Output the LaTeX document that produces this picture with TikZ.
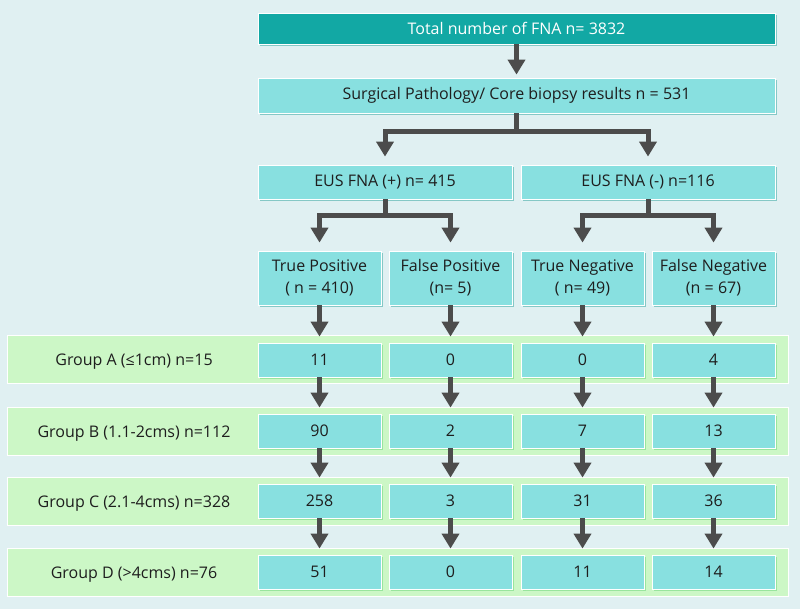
\documentclass[tikz,border=0pt]{standalone}
\usepackage{fontspec}
\setmainfont{Open Sans}
\usetikzlibrary{arrows.meta,shadows}
\definecolor{bgc}{HTML}{E0F0F2}
\definecolor{tealbox}{HTML}{12A8A4}
\definecolor{cyanbox}{HTML}{88E0E0}
\definecolor{greenband}{HTML}{CCF7C6}
\definecolor{arrowc}{HTML}{4C4C4C}
\definecolor{txt}{HTML}{1E1E1E}
\definecolor{shadowc}{HTML}{5FB8B4}
\definecolor{gshadow}{HTML}{9CE89A}
\begin{document}
\begin{tikzpicture}[x=1pt,y=-1pt,
  base/.style={draw=white, line width=0.8pt, inner sep=0pt, align=center,
    font=\fontsize{16}{22}\selectfont},
  box/.style={base, fill=cyanbox, text=txt, minimum height=34pt,
    drop shadow={shadow xshift=1.5pt, shadow yshift=-2pt, fill=shadowc, opacity=0.7}},
  topbox/.style={base, fill=tealbox, text=white, minimum width=517pt, minimum height=31pt,
    drop shadow={shadow xshift=1.5pt, shadow yshift=-2pt, fill=shadowc, opacity=0.7}},
  colbox/.style={box, minimum width=123pt, minimum height=54pt},
  cell/.style={box, minimum width=123pt, minimum height=34pt,
    drop shadow={shadow xshift=1.5pt, shadow yshift=-2pt, fill=gshadow, opacity=0.9}},
  band/.style={base, fill=greenband, minimum width=781pt, minimum height=48pt},
  lbl/.style={text=txt, inner sep=0pt, font=\fontsize{16}{22}\selectfont},
  arr/.style={draw=arrowc, line width=5pt, -{Triangle[width=17pt,length=15pt]}, shorten >=6pt}
]
\useasboundingbox[fill=bgc] (0,0) rectangle (800,609);

% top
\node[topbox] (total) at (516.5,28.5) {Total number of FNA n= 3832};
\node[box, minimum width=517pt, minimum height=35pt] (surg) at (516.5,95.5) {Surgical Pathology/ Core biopsy results n = 531};
\node[box, minimum width=254pt] (eusp) at (385,182) {EUS FNA (+) n= 415};
\node[box, minimum width=254pt] (eusn) at (648,182) {EUS FNA (-) n=116};

\node[colbox] (tp) at (319.5,278) {True Positive\\( n = 410)};
\node[colbox] (fp) at (450.5,278) {False Positive\\(n= 5)};
\node[colbox] (tn) at (582.5,278) {True Negative\\( n= 49)};
\node[colbox] (fn) at (713.5,278) {False Negative\\(n = 67)};

% bands
\node[band] (ga) at (397.5,359) {};
\node[band] (gb) at (397.5,431) {};
\node[band] (gc) at (397.5,501.5) {};
\node[band] (gd) at (397.5,572.5) {};

\node[lbl, anchor=base] (la) at (134,365) {Group A (≤1cm) n=15};
\node[lbl, anchor=base] (lb) at (134,437) {Group B (1.1-2cms) n=112};
\node[lbl, anchor=base] (lc) at (134,507.5) {Group C (2.1-4cms) n=328};
\node[lbl, anchor=base] (ld) at (134,578.5) {Group D (>4cms) n=76};

% cells
\node[cell] (a1) at (319.5,360) {11};
\node[cell] (a2) at (450.5,360) {0};
\node[cell] (a3) at (582.5,360) {0};
\node[cell] (a4) at (713.5,360) {4};
\node[cell] (b1) at (319.5,431) {90};
\node[cell] (b2) at (450.5,431) {2};
\node[cell] (b3) at (582.5,431) {7};
\node[cell] (b4) at (713.5,431) {13};
\node[cell] (c1) at (319.5,501) {258};
\node[cell] (c2) at (450.5,501) {3};
\node[cell] (c3) at (582.5,501) {31};
\node[cell] (c4) at (713.5,501) {36};
\node[cell] (d1) at (319.5,572) {51};
\node[cell] (d2) at (450.5,572) {0};
\node[cell] (d3) at (582.5,572) {11};
\node[cell] (d4) at (713.5,572) {14};

% connectors
\draw[arr, shorten >=3pt] (total.south) -- (surg.north);
\draw[arr, shorten >=8pt] (surg.south) -- ++(0,18) -| (eusp.north);
\draw[arr, shorten >=8pt] (surg.south) -- ++(0,18) -| (eusn.north);
\draw[arr, shorten >=8pt] (eusp.south) -- ++(0,16) -| (tp.north);
\draw[arr, shorten >=8pt] (eusp.south) -- ++(0,16) -| (fp.north);
\draw[arr, shorten >=8pt] (eusn.south) -- ++(0,16) -| (tn.north);
\draw[arr, shorten >=8pt] (eusn.south) -- ++(0,16) -| (fn.north);

\foreach \u/\v in {tp/a1,fp/a2,tn/a3,fn/a4,a1/b1,a2/b2,a3/b3,a4/b4,b1/c1,b2/c2,b3/c3,b4/c4,c1/d1,c2/d2,c3/d3,c4/d4}
  \draw[arr] (\u.south) -- (\v.north);
\end{tikzpicture}
\end{document}
